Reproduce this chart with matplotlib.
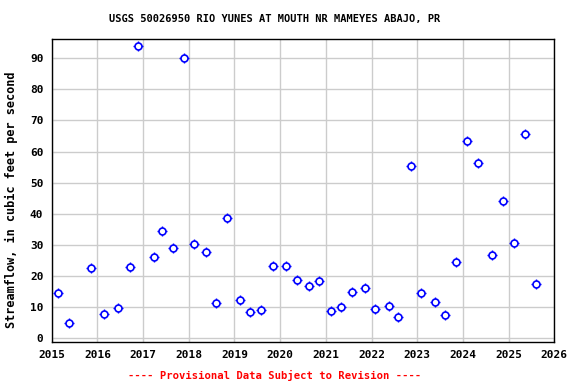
import matplotlib
matplotlib.use("Agg")
import matplotlib.pyplot as plt
import matplotlib.dates as mdates
import pandas as pd

dates = ["2015-02-20", "2015-05-22", "2015-11-10", "2016-02-20", "2016-06-13",
         "2016-09-20", "2016-11-17", "2017-03-25", "2017-05-30", "2017-08-25",
         "2017-11-20", "2018-02-10", "2018-05-22", "2018-08-03", "2018-11-06",
         "2019-02-17", "2019-05-08", "2019-08-04", "2019-11-06", "2020-02-21",
         "2020-05-12", "2020-08-15", "2020-11-10", "2021-02-14", "2021-05-05",
         "2021-07-31", "2021-11-10", "2022-01-30", "2022-05-22", "2022-08-03",
         "2022-11-14", "2023-02-03", "2023-05-22", "2023-08-15", "2023-11-10",
         "2024-02-03", "2024-05-01", "2024-08-22", "2024-11-17", "2025-02-14",
         "2025-05-12", "2025-08-08"]
flow = [14.5, 4.8, 22.6, 7.7, 9.6, 22.8, 94.0, 26.0, 34.5, 28.9,
        90.0, 30.2, 27.7, 11.2, 38.6, 12.3, 8.4, 9.1, 23.1, 23.1,
        18.7, 16.8, 18.4, 8.7, 10.1, 14.8, 16.2, 9.3, 10.4, 6.7,
        55.4, 14.5, 11.6, 7.4, 24.4, 63.3, 56.2, 26.7, 44.0, 30.5,
        65.6, 17.4]
year_ticks = list(range(2015, 2027))
y_ticks = list(range(0, 100, 10))

x = pd.to_datetime(dates)

fig = plt.figure(figsize=(5.76, 3.84), dpi=100)
ax = fig.add_axes([0.0898, 0.1094, 0.8725, 0.7883])

ax.plot(x, flow, linestyle="none", marker="+", markersize=7.2, color="#0000ff",
        markeredgewidth=1, zorder=3)
ax.plot(x, flow, linestyle="none", marker="o", markersize=5, markerfacecolor="white",
        markeredgecolor="#0000ff", markeredgewidth=1.2, zorder=4)

ax.set_xlim(pd.Timestamp("2015-01-01"), pd.Timestamp("2026-01-01"))
ax.set_ylim(-1.2, 96.1)
ax.set_xticks([pd.Timestamp(f"{y}-01-01") for y in year_ticks])
ax.xaxis.set_major_formatter(mdates.DateFormatter("%Y"))
ax.set_yticks(y_ticks)
ax.grid(True, color="#cccccc", linewidth=1)
ax.set_axisbelow(True)
for s in ax.spines.values():
    s.set_linewidth(1)
    s.set_color("black")
ax.tick_params(direction="in", length=3, color="#cccccc", pad=6)
for lab in ax.get_xticklabels() + ax.get_yticklabels():
    lab.set_fontfamily("DejaVu Sans Mono")
    lab.set_fontweight("bold")
    lab.set_fontsize(8)

ax.set_ylabel("Streamflow, in cubic feet per second", family="DejaVu Sans Mono",
              weight="bold", size=8.6)
ax.yaxis.set_label_coords(-0.068, 0.469)
fig.text(0.476, 0.951, "USGS 50026950 RIO YUNES AT MOUTH NR MAMEYES ABAJO, PR",
         ha="center", va="center", family="DejaVu Sans Mono", weight="bold", size=7.5)
fig.text(0.476, 0.022, "---- Provisional Data Subject to Revision ----",
         ha="center", va="center", color="red", family="DejaVu Sans Mono",
         weight="bold", size=7.6)

fig.savefig("out.png", dpi=100)
